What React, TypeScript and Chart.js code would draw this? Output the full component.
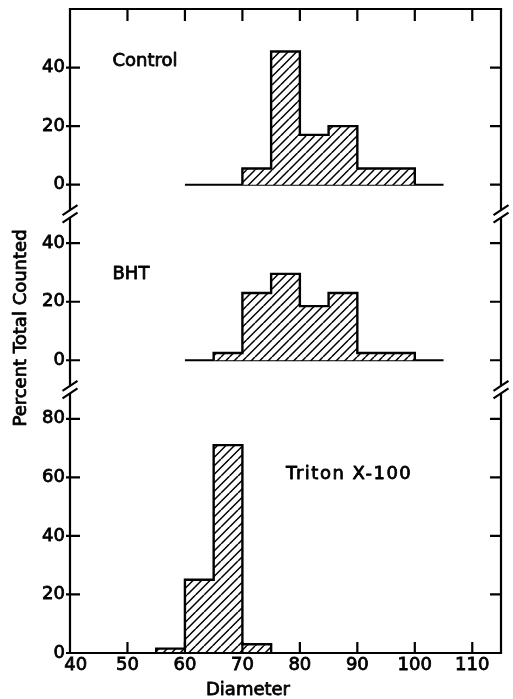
import React, { useEffect, useRef } from 'react';
import { Chart, registerables } from 'chart.js';

Chart.register(...registerables);

// ---- data ----
const xTickValues = [40, 50, 60, 70, 80, 90, 100, 110];
const xTickLabels = ['40', '50', '60', '70', '80', '90', '100', '110'];
const binWidth = 5;

const controlBinStarts = [70, 75, 80, 85, 90, 95];
const controlValues = [5.5, 45.5, 17, 20, 5.5, 5.5];

const bhtBinStarts = [65, 70, 75, 80, 85, 90, 95];
const bhtValues = [2.5, 23, 29.5, 18.5, 23, 2.5, 2.5];

const tritonBinStarts = [55, 60, 65, 70];
const tritonValues = [1.5, 25, 71, 3];

const baselineRange = [60, 105];

const topTicks = [0, 20, 40];
const midTicks = [0, 20, 40];
const botTicks = [0, 20, 40, 60, 80];

const panelLabels = ['Control', 'BHT', 'Triton X-100'];
const xTitle = 'Diameter';
const yTitle = 'Percent Total Counted';

const FONT = '"DejaVu Sans", sans-serif';
const STROKE = 0.8;

function outline(starts: number[], values: number[]) {
  const pts: { x: number; y: number }[] = [{ x: starts[0], y: 0 }];
  starts.forEach((s, i) => pts.push({ x: s, y: values[i] }));
  pts.push({ x: starts[starts.length - 1] + binWidth, y: 0 });
  return pts;
}

function makeHatch(): CanvasPattern | string {
  const c = document.createElement('canvas');
  const T = 17;
  c.width = T;
  c.height = T;
  const g = c.getContext('2d');
  if (!g) return '#fff';
  g.fillStyle = '#fff';
  g.fillRect(0, 0, T, T);
  g.strokeStyle = '#000';
  g.lineWidth = 1.5;
  g.beginPath();
  for (let x0 = -T; x0 <= T; x0 += T / 2) {
    g.moveTo(x0, T);
    g.lineTo(x0 + T, 0);
  }
  g.stroke();
  const p = g.createPattern(c, 'repeat');
  return p || '#fff';
}

function strongText(ctx: CanvasRenderingContext2D, s: string, x: number, y: number) {
  ctx.fillText(s, x, y);
  ctx.strokeText(s, x, y);
}

const framePlugin = {
  id: 'framePlugin',
  afterDraw(chart: any) {
    const ctx: CanvasRenderingContext2D = chart.ctx;
    const { left, right, top, bottom } = chart.chartArea;
    const sx = chart.scales.x;
    const yScales = [chart.scales.yTop, chart.scales.yMid, chart.scales.yBot];
    const breaks = [chart.scales.yTop.bottom, chart.scales.yMid.bottom];
    const gap = 3.75;
    ctx.save();
    ctx.strokeStyle = '#000';
    ctx.fillStyle = '#000';
    ctx.lineWidth = 2.2;
    ctx.lineCap = 'butt';
    // top & bottom frame
    ctx.beginPath();
    ctx.moveTo(left - 1.1, top);
    ctx.lineTo(right + 1.1, top);
    ctx.moveTo(left - 1.1, bottom);
    ctx.lineTo(right + 1.1, bottom);
    ctx.stroke();
    // side frames with breaks
    for (const xe of [left, right]) {
      ctx.beginPath();
      let y0 = top;
      for (const b of breaks) {
        ctx.moveTo(xe, y0);
        ctx.lineTo(xe, b - gap);
        y0 = b + gap;
      }
      ctx.moveTo(xe, y0);
      ctx.lineTo(xe, bottom);
      ctx.stroke();
      ctx.beginPath();
      for (const b of breaks) {
        for (const yy of [b - gap, b + gap]) {
          ctx.moveTo(xe - 7.5, yy + 5);
          ctx.lineTo(xe + 7.5, yy - 5);
        }
      }
      ctx.stroke();
    }
    // y ticks
    ctx.beginPath();
    for (const s of yScales) {
      for (const t of s.ticks) {
        const y = s.getPixelForValue(t.value);
        ctx.moveTo(left - 4, y);
        ctx.lineTo(left + 10, y);
        ctx.moveTo(right - 11, y);
        ctx.lineTo(right, y);
      }
    }
    // x ticks
    for (const t of sx.ticks) {
      const x = sx.getPixelForValue(t.value);
      if (Math.abs(x - left) < 2) continue;
      ctx.moveTo(x, top);
      ctx.lineTo(x, top + 12);
      ctx.moveTo(x, bottom);
      ctx.lineTo(x, bottom - 11);
    }
    ctx.stroke();

    // panel labels
    ctx.font = `18px ${FONT}`;
    ctx.lineWidth = STROKE;
    ctx.lineJoin = 'round';
    ctx.textAlign = 'left';
    ctx.textBaseline = 'middle';
    strongText(ctx, panelLabels[0], sx.getPixelForValue(47.4), chart.scales.yTop.getPixelForValue(42));
    strongText(ctx, panelLabels[1], sx.getPixelForValue(47.4), chart.scales.yMid.getPixelForValue(29.5));
    (ctx as any).letterSpacing = '1.5px';
    strongText(ctx, panelLabels[2], sx.getPixelForValue(77.6), chart.scales.yBot.getPixelForValue(61.2));
    (ctx as any).letterSpacing = '0px';

    // axis titles
    ctx.textAlign = 'center';
    strongText(ctx, xTitle, 248, 690);
    ctx.translate(21, 328);
    ctx.rotate(-Math.PI / 2);
    strongText(ctx, yTitle, 0, 0);
    ctx.restore();
  },
};

export default function App() {
  const ref = useRef<HTMLCanvasElement | null>(null);

  useEffect(() => {
    if (!ref.current) return;
    const hatch = makeHatch();
    const tickFont = { family: FONT, size: 18 };

    const yCommon = (ticks: number[], min: number, max: number, weight: number) => ({
      type: 'linear' as const,
      position: 'left' as const,
      stack: 'panels',
      stackWeight: weight,
      offset: false,
      min,
      max,
      grid: { display: false, drawTicks: false },
      border: { display: false },
      afterBuildTicks: (scale: any) => {
        scale.ticks = ticks.map((v) => ({ value: v }));
      },
      afterFit: (scale: any) => {
        scale.width = 70;
        scale.paddingTop = 0;
        scale.paddingBottom = 0;
      },
      ticks: {
        font: tickFont,
        color: '#000',
        textStrokeColor: '#000',
        textStrokeWidth: STROKE,
        padding: 5,
        callback: (v: any) => String(v),
      },
    });

    const chart = new Chart(ref.current, {
      type: 'line',
      data: {
        datasets: [
          {
            label: panelLabels[0],
            data: outline(controlBinStarts, controlValues),
            yAxisID: 'yTop',
            stepped: true,
            fill: 'origin',
            backgroundColor: hatch as any,
            borderColor: '#000',
            borderWidth: 2.4,
            pointRadius: 0,
          },
          {
            label: 'Control baseline',
            data: [
              { x: baselineRange[0], y: 0 },
              { x: baselineRange[1], y: 0 },
            ],
            yAxisID: 'yTop',
            borderColor: '#000',
            borderWidth: 2,
            pointRadius: 0,
            fill: false,
          },
          {
            label: panelLabels[1],
            data: outline(bhtBinStarts, bhtValues),
            yAxisID: 'yMid',
            stepped: true,
            fill: 'origin',
            backgroundColor: hatch as any,
            borderColor: '#000',
            borderWidth: 2.4,
            pointRadius: 0,
          },
          {
            label: 'BHT baseline',
            data: [
              { x: baselineRange[0], y: 0 },
              { x: baselineRange[1], y: 0 },
            ],
            yAxisID: 'yMid',
            borderColor: '#000',
            borderWidth: 2,
            pointRadius: 0,
            fill: false,
          },
          {
            label: panelLabels[2],
            data: outline(tritonBinStarts, tritonValues),
            yAxisID: 'yBot',
            stepped: true,
            fill: 'origin',
            backgroundColor: hatch as any,
            borderColor: '#000',
            borderWidth: 2.4,
            pointRadius: 0,
          },
        ],
      },
      options: {
        animation: false,
        responsive: true,
        maintainAspectRatio: false,
        layout: { padding: { left: 0, top: 9, right: 12, bottom: 0 } },
        plugins: {
          legend: { display: false },
          tooltip: { enabled: false },
        },
        scales: {
          x: {
            type: 'linear',
            position: 'bottom',
            min: 40,
            max: 115,
            grid: { display: false, drawTicks: false },
            border: { display: false },
            afterBuildTicks: (scale: any) => {
              scale.ticks = xTickValues.map((v) => ({ value: v }));
            },
            afterFit: (scale: any) => {
              scale.height = 46;
              scale.paddingLeft = 0;
              scale.paddingRight = 0;
            },
            ticks: {
              font: tickFont,
              color: '#000',
              textStrokeColor: '#000',
              textStrokeWidth: STROKE,
              padding: 2,
              autoSkip: false,
              maxRotation: 0,
              callback: (_v: any, i: number) =>
                i === 0 ? '\u2007' + xTickLabels[i] : xTickLabels[i],
            },
          },
          yBot: yCommon(botTicks, 0, 90, 90),
          yMid: yCommon(midTicks, -10, 50, 60),
          yTop: yCommon(topTicks, -10, 60, 70),
        } as any,
      },
      plugins: [framePlugin],
    });
    return () => chart.destroy();
  }, []);

  return (
    <div
      style={{
        position: 'fixed',
        left: 0,
        top: 0,
        width: 513,
        height: 699,
        background: '#fff',
      }}
    >
      <canvas ref={ref} />
    </div>
  );
}
